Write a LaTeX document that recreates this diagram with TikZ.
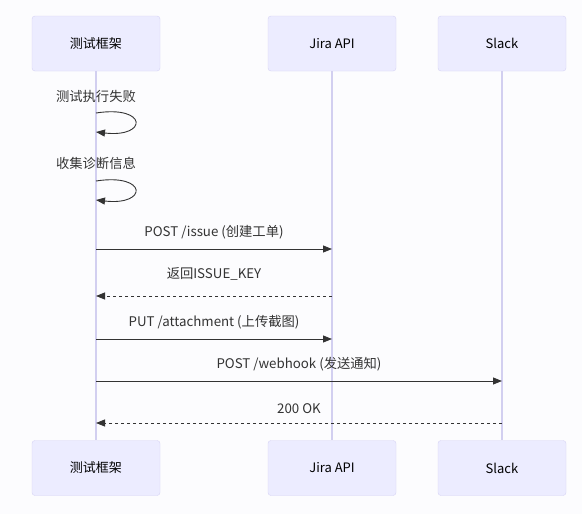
\documentclass[tikz,border=0pt]{standalone}
\usepackage{fontspec}
\setmainfont{Noto Sans CJK SC}
\usetikzlibrary{arrows.meta,positioning}
\definecolor{actorfill}{HTML}{ECECFF}
\definecolor{actorline}{HTML}{D6D3F4}
\definecolor{lifecol}{HTML}{D2CFF0}
\definecolor{msgcol}{HTML}{333333}
\definecolor{bgcol}{HTML}{FCFCFE}

\begin{document}
\begin{tikzpicture}[x=1pt,y=-1pt,>={Triangle[length=9pt,width=7pt]},
    actor/.style={draw=actorline,fill=actorfill,rounded corners=3pt,
      minimum width=128pt,minimum height=55pt,font=\fontsize{13}{15}\selectfont},
    lifeline/.style={draw=lifecol,line width=1.2pt},
    msg/.style={->,draw=msgcol,line width=0.9pt},
    reply/.style={msg,dash pattern=on 3pt off 3pt},
    lbl/.style={font=\fontsize{13.3}{15}\selectfont,text=msgcol}]
      % Background
      \fill[bgcol] (0,0) rectangle (582,514);
      \useasboundingbox (0,0) rectangle (582,514);
      % Actors
      \node[actor] (fw) at (96,43.5) {测试框架};
      \node[actor] (jira) at (332,43.5) {Jira API};
      \node[actor] (slack) at (502,43.5) {Slack};
      \node[actor] (fwb) at (96,468) {测试框架};
      \node[actor] (jirab) at (332,468) {Jira API};
      \node[actor] (slackb) at (502,468) {Slack};
      % Lifelines
      \draw[lifeline] (fw.south) -- (fwb.north);
      \draw[lifeline] (jira.south) -- (jirab.north);
      \draw[lifeline] (slack.south) -- (slackb.north);
      % Self messages
      \coordinate (s1a) at (96,113);
      \coordinate (s1b) at (96,132);
      \node[lbl] (s1) at (96,96) {测试执行失败};
      \draw[msg] (s1a) .. controls (148,105) and (148,138) .. (s1b);
      \coordinate (s2a) at (96,181);
      \coordinate (s2b) at (96,200);
      \node[lbl] (s2) at (96,163) {收集诊断信息};
      \draw[msg] (s2a) .. controls (148,173) and (148,206) .. (s2b);
      % POST /issue
      \coordinate (m1a) at (96,249);
      \coordinate (m1b) at (332,249);
      \draw[msg] (m1a) -- (m1b) node[lbl,midway,above=6pt] (t1) {POST /issue (创建工单)};
      % ISSUE_KEY
      \coordinate (m2a) at (332,296);
      \coordinate (m2b) at (96,296);
      \draw[reply] (m2a) -- (m2b) node[lbl,midway,above=12pt] (t2) {返回ISSUE\_KEY};
      % PUT /attachment
      \coordinate (m3a) at (96,339);
      \coordinate (m3b) at (332,339);
      \draw[msg] (m3a) -- (m3b) node[lbl,midway,above=6pt] (t3) {PUT /attachment (上传截图)};
      % POST /webhook
      \coordinate (m4a) at (96,381);
      \coordinate (m4b) at (502,381);
      \draw[msg] (m4a) -- (m4b) node[lbl,midway,above=6pt] (t4) {POST /webhook (发送通知)};
      % 200 OK
      \coordinate (m5a) at (502,423);
      \coordinate (m5b) at (96,423);
      \draw[reply] (m5a) -- (m5b) node[lbl,midway,above=6pt] (t5) {200 OK};
    \end{tikzpicture}
\end{document}
